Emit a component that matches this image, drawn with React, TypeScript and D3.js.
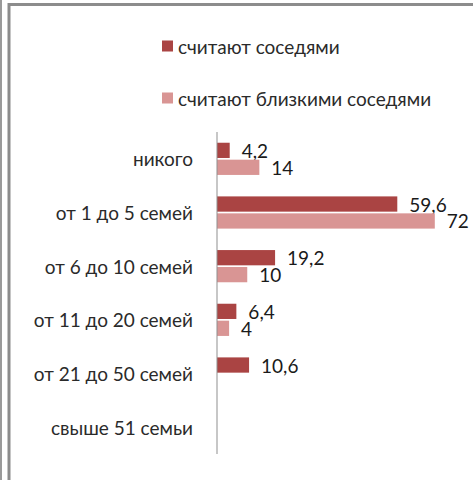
import React, { useEffect, useRef } from 'react';
import * as d3 from 'd3';

// categories (top to bottom) and the two series, % of respondents
const categories = [
  'никого',
  'от 1 до 5 семей',
  'от 6 до 10 семей',
  'от 11 до 20 семей',
  'от 21 до 50 семей',
  'свыше 51 семьи',
];
const seriesNames = ['считают соседями', 'считают близкими соседями'];
const neighbours: (number | null)[] = [4.2, 59.6, 19.2, 6.4, 10.6, null];
const closeNeighbours: (number | null)[] = [14, 72, 10, 4, null, null];
const colors = ['#aa4443', '#d99594'];

const W = 473;
const H = 480;
const FONT = 'Lato, "Open Sans", sans-serif';

const App = () => {
  const svgRef = useRef<SVGSVGElement | null>(null);

  useEffect(() => {
    const svg = d3.select(svgRef.current);
    svg.selectAll('*').remove();

    svg.append('rect').attr('width', W).attr('height', H).attr('fill', '#fff');

    // frame bits from the screenshot
    svg.append('rect').attr('x', 0).attr('y', 0).attr('width', 2).attr('height', H).attr('fill', '#9a9a9a');
    svg.append('path')
      .attr('d', `M9,${H} V4.5 H${W}`)
      .attr('fill', 'none')
      .attr('stroke', '#8c8c8c')
      .attr('stroke-width', 3);

    const x = d3.scaleLinear().domain([0, 80]).range([217, 459]);
    const y = d3.scaleBand<string>()
      .domain(categories)
      .range([132, 454])
      .paddingInner(0.4)
      .paddingOuter(0.2);
    const sub = d3.scaleBand<number>()
      .domain([0, 1])
      .range([0, y.bandwidth()])
      .paddingInner(0.1);

    const fmt = (v: number) => String(v).replace('.', ',');

    // category labels
    svg.append('g')
      .selectAll('text')
      .data(categories)
      .join('text')
      .attr('x', 193)
      .attr('y', d => (y(d) as number) + y.bandwidth() / 2)
      .attr('text-anchor', 'end')
      .attr('dominant-baseline', 'central')
      .attr('font-family', FONT)
      .attr('font-size', 19)
      .attr('fill', '#2a2a2a')
      .text(d => d);

    const series = [neighbours, closeNeighbours];
    series.forEach((vals, si) => {
      const rows = categories
        .map((c, i) => ({ c, v: vals[i] }))
        .filter(d => d.v != null) as { c: string; v: number }[];

      const g = svg.append('g');
      g.selectAll('rect')
        .data(rows)
        .join('rect')
        .attr('x', x(0))
        .attr('y', d => (y(d.c) as number) + (sub(si) as number))
        .attr('width', d => x(d.v) - x(0))
        .attr('height', sub.bandwidth())
        .attr('fill', colors[si]);

      g.selectAll('text')
        .data(rows)
        .join('text')
        .attr('x', d => x(d.v) + 12)
        .attr('y', d => (y(d.c) as number) + (sub(si) as number) + sub.bandwidth() / 2)
        .attr('dominant-baseline', 'central')
        .attr('font-family', FONT)
        .attr('font-size', 19)
        .attr('fill', '#1a1a1a')
        .text(d => fmt(d.v));
    });

    // category axis line
    svg.append('line')
      .attr('x1', x(0))
      .attr('x2', x(0))
      .attr('y1', y.range()[0])
      .attr('y2', y.range()[1])
      .attr('stroke', '#8f8f8f')
      .attr('stroke-width', 1);

    // legend
    const legend = svg.append('g')
      .selectAll('g')
      .data(seriesNames)
      .join('g')
      .attr('transform', (d, i) => `translate(162,${46 + i * 52})`);
    legend.append('rect')
      .attr('x', 0)
      .attr('y', -5.5)
      .attr('width', 11)
      .attr('height', 11)
      .attr('fill', (d, i) => colors[i]);
    legend.append('text')
      .attr('x', 16)
      .attr('y', 0)
      .attr('dominant-baseline', 'central')
      .attr('font-family', FONT)
      .attr('font-size', 19)
      .attr('fill', '#2a2a2a')
      .text(d => d);
  }, []);

  return (
    <svg
      ref={svgRef}
      width={W}
      height={H}
      style={{ position: 'absolute', left: 0, top: 0, display: 'block' }}
    />
  );
};

export default App;
